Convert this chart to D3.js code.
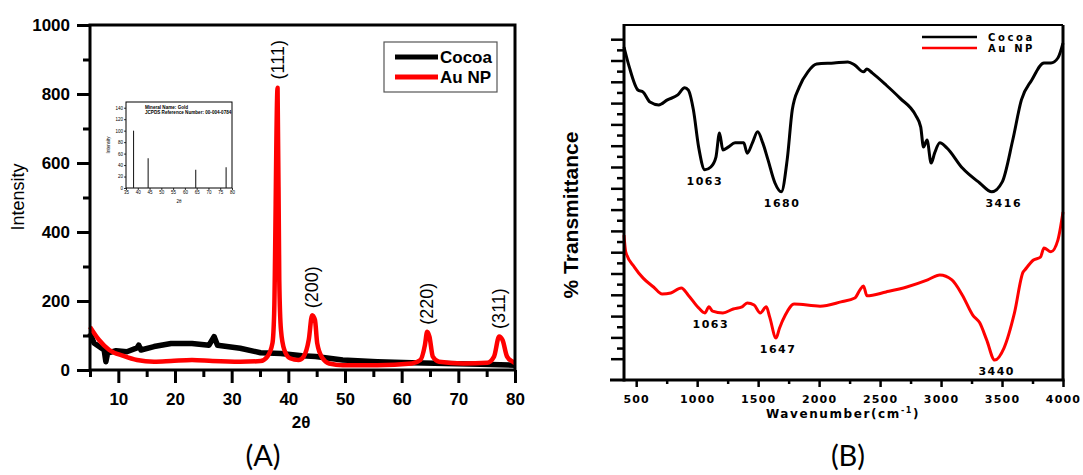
<!DOCTYPE html>
<html>
<head>
<meta charset="utf-8">
<script src="https://cdn.jsdelivr.net/npm/d3@7"></script>
<style>
  body { margin: 0; background: #fff; }
  svg text { fill: #000; }
</style>
</head>
<body>
<div id="chart"></div>
<script>
// ---- (A) XRD data ----
const cocoaTheta = [5, 5.7, 6.6, 7.5, 7.8, 8.1, 9.6, 11.5, 13.3, 13.6, 14.0, 16.3, 19.3, 23, 26, 26.9, 27.5, 31.5, 35.1, 38.7, 42.4, 44.8, 49.6, 55.7, 61.8, 67.8, 73.9, 80]
const cocoaInt   = [107, 78, 68, 58, 24, 49, 56, 53, 64, 72, 58, 68, 77, 77, 72, 97, 72, 63, 50, 48, 41, 39, 29, 24, 21, 19, 17, 14]

const auTheta = [5, 6.6, 8.4, 10.9, 13.3, 16.3, 19.3, 23, 26.6, 31.5, 35.1, 36.3, 37.2, 37.5, 38.1, 38.4, 38.7, 39.3, 40.3, 41.8, 42.7, 43.6, 44.2, 44.7, 45.1, 46.0, 47.2, 49.6, 55.7, 61.8, 63.3, 64.1, 64.5, 64.9, 65.5, 66.6, 70.9, 75.1, 76.3, 77.2, 77.8, 78.6, 79.6, 80]
const auInt   = [125, 87, 58, 41, 29, 24, 26, 29, 26, 24, 26, 39, 78, 165, 818, 261, 116, 58, 34, 29, 39, 87, 159, 145, 77, 35, 19, 14, 14, 19, 29, 72, 111, 97, 39, 24, 19, 21, 39, 97, 87, 39, 24, 20]

const peakHkl   = ['(111)', '(200)', '(220)', '(311)']
const peakTheta = [38.1, 44.2, 64.5, 77.2]
const peakTop   = [818, 159, 111, 97]

// inset: JCPDS 00-004-0784 reference lines
const refTheta = [38.2, 44.4, 64.6, 77.5]
const refInt   = [100, 52, 32, 36]

// ---- (B) FTIR data ----
const cocoaWave = [400, 443, 514, 557, 613, 685, 756, 841, 898, 927, 969, 1012, 1063, 1112, 1154, 1183, 1211, 1254, 1311, 1382, 1410, 1453, 1496, 1538, 1581, 1638, 1690, 1738, 1780, 1837, 1908, 1980, 2122, 2236, 2293, 2364, 2392, 2435, 2549, 2663, 2791, 2833, 2856, 2885, 2919, 2947, 2990, 3047, 3175, 3317, 3416, 3502, 3588, 3659, 3744, 3844, 3901, 3958, 4000]
const cocoaT    = [93.8, 88.2, 81.7, 81.1, 78.3, 77.5, 78.9, 80.3, 82.3, 81.7, 76.1, 65.6, 59.2, 60.0, 62.8, 69.6, 64.8, 65.6, 66.8, 66.8, 63.9, 66.8, 69.9, 66.8, 62.0, 55.5, 53.0, 62.0, 76.1, 82.5, 86.8, 89.0, 89.3, 89.6, 88.7, 86.8, 87.6, 86.5, 83.1, 79.4, 74.6, 71.3, 65.6, 67.6, 61.1, 63.9, 66.8, 65.4, 59.7, 55.5, 53.0, 55.8, 67.6, 78.9, 84.5, 89.3, 89.3, 90.7, 94.9]

const auWave = [400, 414, 485, 557, 642, 713, 784, 870, 927, 1012, 1063, 1097, 1126, 1211, 1296, 1368, 1410, 1467, 1518, 1567, 1595, 1647, 1675, 1723, 1795, 2008, 2179, 2293, 2335, 2364, 2392, 2549, 2719, 2890, 2990, 3089, 3175, 3260, 3317, 3374, 3440, 3516, 3602, 3673, 3687, 3758, 3815, 3844, 3901, 3958, 4000]
const auT    = [40.8, 36.1, 31.8, 28.7, 26.2, 24.2, 24.5, 25.9, 23.9, 20.3, 18.9, 20.6, 19.4, 18.9, 20.0, 20.6, 21.7, 21.1, 18.9, 20.6, 17.7, 11.8, 14.6, 18.3, 21.4, 20.8, 22.0, 23.1, 25.4, 26.5, 23.7, 24.8, 26.2, 28.2, 29.6, 28.2, 23.9, 18.3, 16.1, 11.3, 5.6, 9.0, 18.9, 30.4, 31.0, 33.8, 34.6, 37.2, 36.1, 39.4, 47.3]

const cocoaBands = [1063, 1680, 3416]
const auBands    = [1063, 1647, 3440]

const W = 1083, H = 475
const svg = d3.select('#chart').append('svg')
  .attr('width', W).attr('height', H)
  .style('font-family', '"Liberation Sans", Arial, sans-serif')

const intFmt = d3.format('d')

function styleAxis (g, width) {
  g.select('.domain').remove()
  g.selectAll('.tick line').attr('stroke', '#000').attr('stroke-width', width)
}

// ================= panel A =================
const ax = d3.scaleLinear().domain([5, 80]).range([90, 515])
const ay = d3.scaleLinear().domain([0, 1000]).range([370, 25])

const gA = svg.append('g')

gA.append('g').attr('transform', 'translate(0,370)')
  .call(d3.axisBottom(ax).tickValues([5, 15, 25, 35, 45, 55, 65, 75]).tickSize(7).tickFormat(''))
  .call(g => styleAxis(g, 3))
gA.append('g').attr('transform', 'translate(0,370)')
  .call(d3.axisBottom(ax).tickValues(d3.range(10, 81, 10)).tickSize(13).tickPadding(10).tickFormat(intFmt))
  .call(g => styleAxis(g, 3))
  .selectAll('text').style('font-size', '17px').style('font-weight', 'bold')

gA.append('g').attr('transform', 'translate(90,0)')
  .call(d3.axisLeft(ay).tickValues([100, 300, 500, 700, 900]).tickSize(7).tickFormat(''))
  .call(g => styleAxis(g, 3))
gA.append('g').attr('transform', 'translate(90,0)')
  .call(d3.axisLeft(ay).tickValues(d3.range(0, 1001, 200)).tickSize(13).tickPadding(7).tickFormat(intFmt))
  .call(g => styleAxis(g, 3))
  .selectAll('text').style('font-size', '17px').style('font-weight', 'bold')

const lineA = d3.line().x(d => ax(d[0])).y(d => ay(d[1]))

gA.append('path')
  .datum(d3.zip(cocoaTheta, cocoaInt))
  .attr('d', lineA)
  .attr('fill', 'none').attr('stroke', '#000').attr('stroke-width', 5.5)
  .attr('stroke-linejoin', 'round')

gA.append('path')
  .datum(d3.zip(auTheta, auInt))
  .attr('d', lineA.curve(d3.curveMonotoneX))
  .attr('fill', 'none').attr('stroke', '#ff0000').attr('stroke-width', 4.5)
  .attr('stroke-linejoin', 'round')

gA.append('rect')
  .attr('x', 90).attr('y', 25).attr('width', 425).attr('height', 345)
  .attr('fill', 'none').attr('stroke', '#000').attr('stroke-width', 3)

// hkl labels
gA.selectAll('.hkl')
  .data(peakHkl)
  .enter()
  .append('text')
  .attr('transform', (d, i) => `translate(${ax(peakTheta[i])}, ${ay(peakTop[i]) - 28}) rotate(-90)`)
  .attr('text-anchor', 'middle')
  .attr('dy', '0.35em')
  .style('font-size', '18px')
  .text(d => d)

// axis titles
gA.append('text')
  .attr('transform', 'translate(18,197) rotate(-90)')
  .attr('text-anchor', 'middle').attr('dy', '0.35em')
  .style('font-size', '18px')
  .text('Intensity')
gA.append('text')
  .attr('x', 301).attr('y', 428)
  .attr('text-anchor', 'middle')
  .style('font-size', '17px').style('font-weight', 'bold')
  .text('2θ')

// legend
const legA = gA.append('g')
legA.append('rect')
  .attr('x', 384).attr('y', 42).attr('width', 113).attr('height', 50)
  .attr('fill', '#fff').attr('stroke', '#555').attr('stroke-width', 1.2)
const legItemsA = [['Cocoa', '#000'], ['Au NP', '#ff0000']]
legA.selectAll('.li')
  .data(legItemsA)
  .enter()
  .append('g')
  .attr('transform', (d, i) => `translate(0, ${57 + i * 20})`)
  .each(function (d) {
    const g = d3.select(this)
    g.append('line').attr('x1', 395).attr('x2', 438)
      .attr('stroke', d[1]).attr('stroke-width', 5)
    g.append('text').attr('x', 440).attr('dy', '0.36em')
      .style('font-size', '17px').style('font-weight', 'bold')
      .text(d[0])
  })

// inset
const ix = d3.scaleLinear().domain([35, 80]).range([126, 232])
const iy = d3.scaleLinear().domain([0, 150]).range([188, 102])
const gI = svg.append('g')
gI.append('rect')
  .attr('x', 126).attr('y', 102).attr('width', 106).attr('height', 86)
  .attr('fill', '#fff').attr('stroke', '#000').attr('stroke-width', 1)
gI.append('g').attr('transform', 'translate(0,188)')
  .call(d3.axisBottom(ix).tickValues(d3.range(35, 81, 5)).tickSize(2).tickPadding(1))
  .call(g => styleAxis(g, 0.8))
  .selectAll('text').style('font-size', '4.5px')
gI.append('g').attr('transform', 'translate(126,0)')
  .call(d3.axisLeft(iy).tickValues(d3.range(0, 141, 20)).tickSize(2).tickPadding(1))
  .call(g => styleAxis(g, 0.8))
  .selectAll('text').style('font-size', '4.5px')
gI.selectAll('.bar')
  .data(refTheta)
  .enter()
  .append('line')
  .attr('x1', d => ix(d)).attr('x2', d => ix(d))
  .attr('y1', iy(0)).attr('y2', (d, i) => iy(refInt[i]))
  .attr('stroke', '#222').attr('stroke-width', 1.1)
gI.append('text').attr('x', 145).attr('y', 108.5)
  .style('font-size', '4.6px').style('font-weight', 'bold')
  .text('Mineral Name: Gold')
gI.append('text').attr('x', 145).attr('y', 114)
  .style('font-size', '4.6px').style('font-weight', 'bold')
  .text('JCPDS Reference Number: 00-004-0784')
gI.append('text')
  .attr('transform', 'translate(110,145) rotate(-90)')
  .attr('text-anchor', 'middle')
  .style('font-size', '4.5px')
  .text('Intensity')
gI.append('text').attr('x', 179).attr('y', 203)
  .attr('text-anchor', 'middle')
  .style('font-size', '4.5px')
  .text('2θ')

// ================= panel B =================
const bx = d3.scaleLinear().domain([400, 4000]).range([624, 1063])
const by = d3.scaleLinear().domain([0, 100]).range([380, 25])
const gB = svg.append('g')
const wideFont = '"DejaVu Sans", Verdana, sans-serif'

gB.append('g').attr('transform', 'translate(0,380)')
  .call(d3.axisBottom(bx).tickValues(d3.range(750, 4000, 500)).tickSize(4).tickFormat(''))
  .call(g => styleAxis(g, 2.5))
gB.append('g').attr('transform', 'translate(0,380)')
  .call(d3.axisBottom(bx).tickValues(d3.range(500, 4001, 500)).tickSize(7).tickPadding(8).tickFormat(intFmt))
  .call(g => styleAxis(g, 2.5))
  .selectAll('text')
  .style('font-family', wideFont).style('font-size', '11px')
  .style('font-weight', 'bold').style('letter-spacing', '1.2px')

const byTicks = d3.range(6, 97, 3)
gB.append('g').attr('transform', 'translate(624,0)')
  .call(d3.axisLeft(by).tickValues(byTicks.filter(v => v % 6 !== 0)).tickSize(7).tickFormat(''))
  .call(g => styleAxis(g, 2.5))
gB.append('g').attr('transform', 'translate(624,0)')
  .call(d3.axisLeft(by).tickValues(byTicks.filter(v => v % 6 === 0)).tickSize(13).tickFormat(''))
  .call(g => styleAxis(g, 2.5))

const lineB = d3.line().x(d => bx(d[0])).y(d => by(d[1])).curve(d3.curveMonotoneX)

gB.append('path')
  .datum(d3.zip(cocoaWave, cocoaT))
  .attr('d', lineB)
  .attr('fill', 'none').attr('stroke', '#000').attr('stroke-width', 3)
  .attr('stroke-linejoin', 'round')
gB.append('path')
  .datum(d3.zip(auWave, auT))
  .attr('d', lineB)
  .attr('fill', 'none').attr('stroke', '#ff0000').attr('stroke-width', 3)
  .attr('stroke-linejoin', 'round')

// frame
gB.append('line').attr('x1', 624).attr('x2', 1063).attr('y1', 25).attr('y2', 25)
  .attr('stroke', '#000').attr('stroke-width', 2)
gB.append('line').attr('x1', 1063).attr('x2', 1063).attr('y1', 25).attr('y2', 380)
  .attr('stroke', '#000').attr('stroke-width', 3)
gB.append('line').attr('x1', 624).attr('x2', 624).attr('y1', 24).attr('y2', 381.5)
  .attr('stroke', '#000').attr('stroke-width', 3)
gB.append('line').attr('x1', 610).attr('x2', 1064.5).attr('y1', 380).attr('y2', 380)
  .attr('stroke', '#000').attr('stroke-width', 3)

// band labels
function bandLabels (bands, waves, ts, dxs) {
  gB.selectAll(null)
    .data(bands)
    .enter()
    .append('text')
    .attr('x', (d, i) => bx(d) + dxs[i])
    .attr('y', d => {
      const k = d3.minIndex(waves, w => Math.abs(w - d))
      return by(ts[k]) + 11
    })
    .attr('dy', '0.35em')
    .attr('text-anchor', 'middle')
    .style('font-family', wideFont).style('font-size', '11px')
    .style('font-weight', 'bold').style('letter-spacing', '1.5px')
    .text(d => d)
}
bandLabels(cocoaBands, cocoaWave, cocoaT, [0, 2, 12])
bandLabels(auBands, auWave, auT, [6, 2, 2])

// titles
gB.append('text')
  .attr('transform', 'translate(571,215) rotate(-90)')
  .attr('text-anchor', 'middle').attr('dy', '0.35em')
  .style('font-size', '21px').style('font-weight', 'bold')
  .text('% Transmittance')
const wn = gB.append('text')
  .attr('x', 843).attr('y', 418)
  .attr('text-anchor', 'middle')
  .style('font-family', wideFont).style('font-size', '12px')
  .style('font-weight', 'bold').style('letter-spacing', '1.6px')
wn.append('tspan').text('Wavenumber(cm')
wn.append('tspan').attr('dy', -5).style('font-size', '8px').text('-1')
wn.append('tspan').attr('dy', 5).text(')')

// legend
const legItemsB = [['Cocoa', '#000'], ['Au NP', '#ff0000']]
gB.selectAll('.lb')
  .data(legItemsB)
  .enter()
  .append('g')
  .attr('transform', (d, i) => `translate(0, ${37 + i * 11})`)
  .each(function (d) {
    const g = d3.select(this)
    g.append('line').attr('x1', 922).attr('x2', 977)
      .attr('stroke', d[1]).attr('stroke-width', 2.5)
    g.append('text').attr('x', 988).attr('dy', '0.36em')
      .style('font-family', wideFont).style('font-size', '10px')
      .style('font-weight', 'bold').style('letter-spacing', '2.6px')
      .text(d[0])
  })

// panel captions
svg.selectAll('.cap')
  .data(['(A)', '(B)'])
  .enter()
  .append('text')
  .attr('x', (d, i) => i === 0 ? 263 : 848)
  .attr('y', 466)
  .attr('text-anchor', 'middle')
  .style('font-family', 'Lato, "Open Sans", sans-serif')
  .style('font-size', '29px')
  .text(d => d)
</script>
</body>
</html>
